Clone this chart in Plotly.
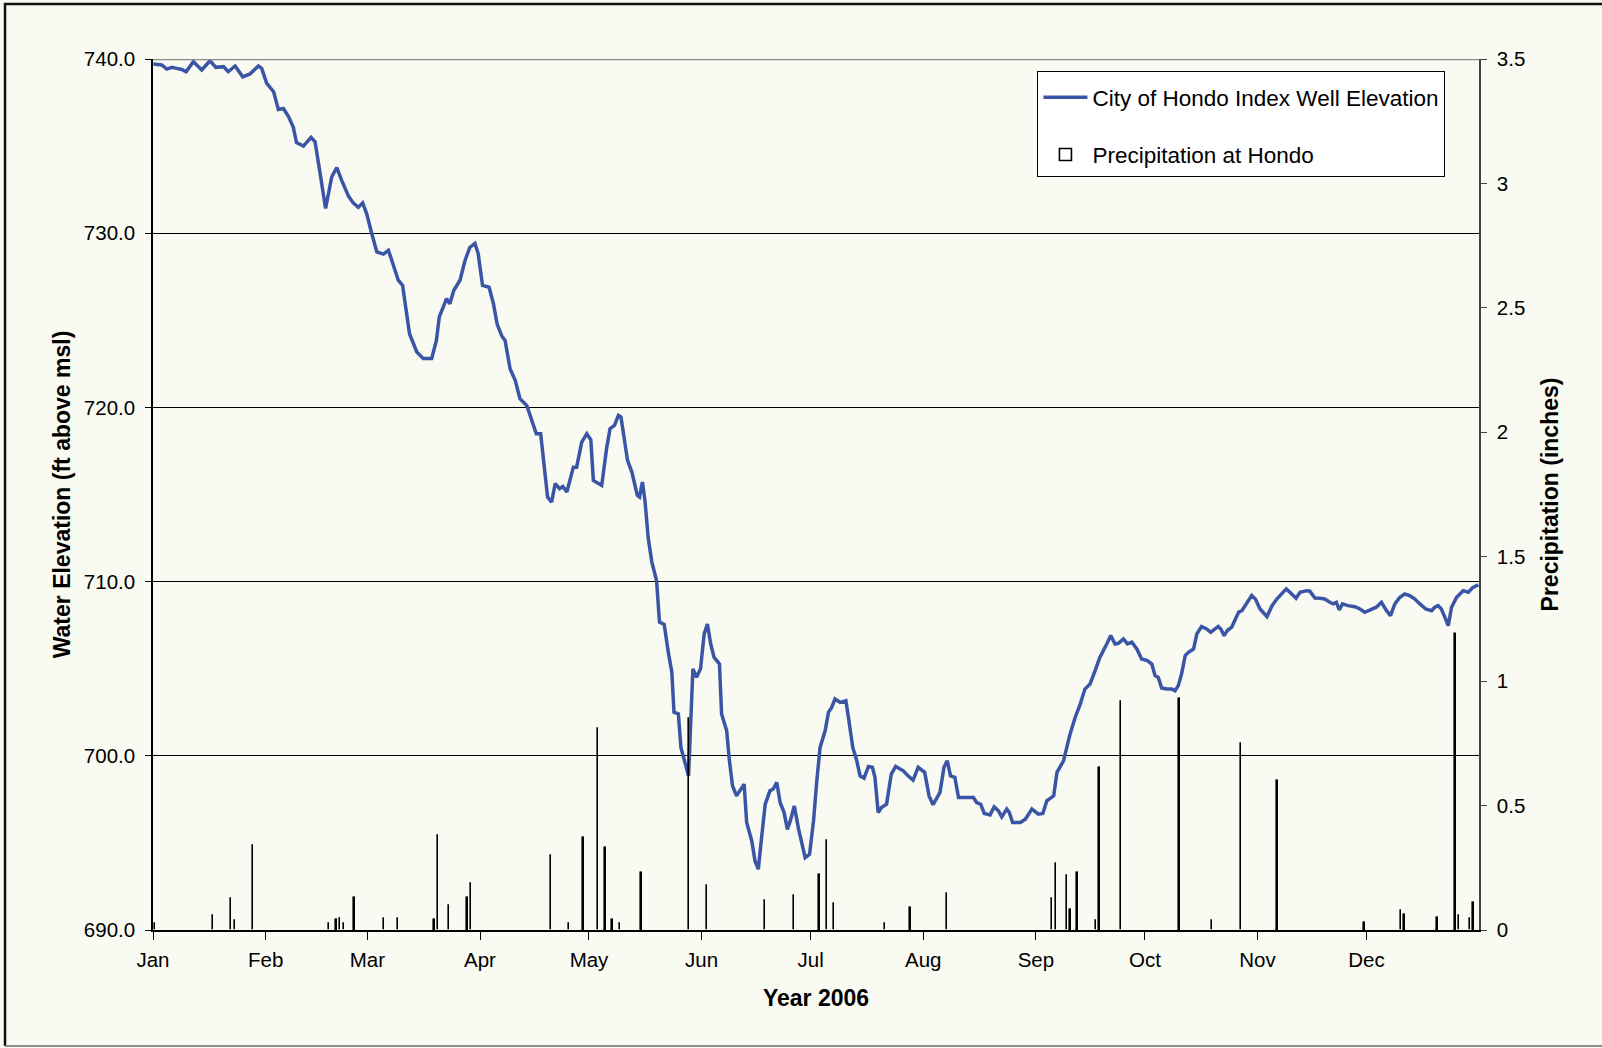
import pandas as pd
import plotly.graph_objects as go

# City of Hondo index well (day offset from Jan 1 2006, ft msl)
well_day = [
    0.1, 2.4, 3.8, 5.2, 6.5, 7.9, 9.1, 11.1, 13.4, 15.7, 17.3, 19.4, 20.7, 22.6, 24.7, 26.7,
    29.0, 29.9, 31.3, 33.2, 34.5, 35.9, 37.3, 38.6, 39.5, 41.4, 43.5, 44.6, 46.0, 47.5, 49.2,
    50.6, 51.9, 53.8, 55.1, 56.5, 57.7, 58.8, 60.2, 61.6, 63.4, 64.8, 66.0, 67.5, 68.7, 69.9,
    70.6, 72.6, 74.4, 76.7, 78.0, 78.8, 80.8, 81.7, 82.8, 84.5, 85.9, 87.2, 88.6, 89.5, 90.7,
    92.5, 93.7, 94.7, 96.0, 96.9, 98.3, 99.7, 101.0, 102.9, 104.3, 105.5, 106.7, 107.6, 108.6,
    109.7, 110.7, 111.9, 112.8, 113.9, 115.7, 116.6, 118.0, 119.4, 120.5, 121.2, 123.5, 124.9,
    125.8, 127.0, 128.1, 128.8, 129.5, 130.6, 131.8, 133.3, 133.9, 134.7, 135.4, 136.3, 137.3,
    138.6, 139.4, 140.7, 141.9, 142.8, 143.4, 144.6, 145.3, 146.4, 147.4, 148.6, 149.6, 150.7,
    151.7, 152.6, 153.5, 154.4, 155.9, 156.5, 157.9, 158.6, 159.5, 160.6, 162.0, 162.7, 163.4,
    164.8, 165.7, 166.6, 167.5, 168.5, 169.8, 170.7, 171.7, 172.6, 173.7, 174.6, 175.4, 176.5,
    177.7, 178.6, 179.5, 180.7, 181.8, 182.7, 183.6, 185.0, 185.9, 186.8, 187.7, 189.1, 190.7,
    191.4, 192.6, 193.7, 194.6, 195.7, 196.9, 198.0, 198.7, 199.6, 200.5, 201.9, 203.2, 204.4,
    206.5, 207.8, 209.2, 210.6, 212.4, 213.6, 214.7, 216.6, 217.7, 218.6, 219.5, 220.7, 221.7,
    223.9, 225.8, 226.7, 227.8, 228.8, 230.4, 231.5, 232.7, 233.6, 235.0, 235.7, 236.6, 238.7,
    240.1, 241.9, 243.7, 244.9, 246.0, 247.9, 248.8, 250.6, 252.4, 253.8, 255.2, 256.5, 257.9,
    259.3, 260.6, 262.5, 263.6, 264.8, 265.7, 267.1, 268.2, 269.4, 270.8, 272.1, 273.7, 274.9,
    275.8, 276.7, 277.6, 279.0, 280.4, 281.3, 282.2, 283.1, 284.1, 285.0, 286.4, 287.3, 288.6,
    290.0, 291.1, 292.3, 293.2, 293.9, 294.8, 295.7, 296.9, 297.8, 298.8, 299.7, 301.1, 302.4,
    303.4, 304.7, 306.6, 308.0, 309.3, 310.7, 311.9, 313.2, 314.6, 315.7, 317.5, 318.4, 319.8,
    321.2, 322.5, 323.9, 324.8, 325.7, 326.5, 327.4, 328.9, 330.8, 332.2, 333.5, 334.9, 336.7,
    338.1, 339.5, 340.6, 341.8, 343.2, 344.5, 345.9, 347.3, 348.7, 350.3, 351.9, 352.8, 353.7,
    354.6, 355.5, 356.5, 357.4, 358.8, 360.6, 362.0, 363.3, 364.8,
]
well_elev = [
    739.71, 739.66, 739.42, 739.52, 739.46, 739.40, 739.27, 739.85, 739.37, 739.90, 739.52,
    739.56, 739.27, 739.60, 738.98, 739.14, 739.60, 739.46, 738.60, 738.12, 737.10, 737.16,
    736.70, 736.10, 735.20, 735.00, 735.50, 735.25, 733.43, 731.42, 733.24, 733.77, 733.05,
    732.13, 731.74, 731.48, 731.74, 731.13, 729.98, 728.93, 728.80, 729.02, 728.26, 727.30,
    727.00, 725.20, 724.23, 723.18, 722.80, 722.80, 723.84, 725.20, 726.24, 725.95, 726.72,
    727.30, 728.45, 729.18, 729.41, 728.83, 727.00, 726.90, 725.95, 724.80, 724.10, 723.84,
    722.20, 721.55, 720.50, 720.10, 719.26, 718.49, 718.49, 716.77, 714.85, 714.56, 715.62,
    715.33, 715.46, 715.14, 716.57, 716.57, 718.01, 718.49, 718.14, 715.81, 715.52, 717.72,
    718.78, 718.97, 719.54, 719.45, 718.49, 716.96, 716.29, 714.95, 714.85, 715.72, 714.66,
    712.50, 711.12, 710.06, 707.67, 707.54, 705.85, 704.80, 702.50, 702.40, 700.48, 699.62,
    698.85, 704.99, 704.51, 704.99, 707.00, 707.57, 706.42, 705.66, 705.27, 702.40, 701.44,
    699.81, 698.28, 697.70, 698.18, 698.37, 696.17, 695.11, 693.96, 693.49, 695.30, 697.22,
    697.99, 698.09, 698.47, 697.32, 696.74, 695.78, 696.26, 697.12, 695.78, 694.92, 694.15,
    694.34, 696.26, 698.56, 700.48, 701.44, 702.49, 702.78, 703.26, 703.07, 703.16, 702.21,
    700.48, 699.72, 698.85, 698.72, 699.39, 699.34, 698.76, 696.74, 697.03, 697.22, 698.95,
    699.39, 699.14, 698.85, 698.60, 699.34, 699.05, 697.70, 697.19, 697.90, 699.34, 699.72,
    698.85, 698.76, 697.61, 697.61, 697.61, 697.32, 697.22, 696.69, 696.61, 697.07, 696.84,
    696.49, 696.94, 696.74, 696.17, 696.17, 696.36, 696.94, 696.65, 696.69, 697.41, 697.70,
    699.05, 699.71, 701.24, 702.20, 702.97, 703.83, 704.12, 704.89, 705.65, 706.42, 706.90,
    706.42, 706.46, 706.71, 706.42, 706.52, 706.13, 705.56, 705.46, 705.27, 704.60, 704.50,
    703.89, 703.83, 703.83, 703.74, 704.03, 704.70, 705.75, 705.94, 706.13, 707.00, 707.42,
    707.28, 707.09, 707.28, 707.42, 707.28, 706.90, 707.19, 707.38, 707.80, 708.24, 708.33,
    708.81, 709.20, 709.00, 708.43, 707.99, 708.62, 709.00, 709.35, 709.58, 709.33, 709.04,
    709.39, 709.48, 709.45, 709.06, 709.04, 709.00, 708.81, 708.72, 708.81, 708.37, 708.72,
    708.62, 708.56, 708.43, 708.24, 708.37, 708.53, 708.81, 708.33, 708.05, 708.72, 709.10,
    709.29, 709.19, 709.00, 708.72, 708.43, 708.33, 708.53, 708.62, 708.43, 707.99, 707.47,
    708.53, 709.10, 709.48, 709.39, 709.67, 709.82,
]

# daily precipitation at Hondo (inches), only days with rain
rain_date = [
    "2006-01-01", "2006-01-17", "2006-01-22", "2006-01-23", "2006-01-28", "2006-02-18",
    "2006-02-20", "2006-02-21", "2006-02-22", "2006-02-25", "2006-03-05", "2006-03-09",
    "2006-03-19", "2006-03-20", "2006-03-23", "2006-03-28", "2006-03-29", "2006-04-20",
    "2006-04-25", "2006-04-29", "2006-05-03", "2006-05-05", "2006-05-07", "2006-05-09",
    "2006-05-15", "2006-05-28", "2006-06-02", "2006-06-18", "2006-06-26", "2006-07-03",
    "2006-07-05", "2006-07-07", "2006-07-21", "2006-07-28", "2006-08-07", "2006-09-05",
    "2006-09-06", "2006-09-09", "2006-09-10", "2006-09-12", "2006-09-17", "2006-09-18",
    "2006-09-24", "2006-10-10", "2006-10-19", "2006-10-27", "2006-11-06", "2006-11-30",
    "2006-12-10", "2006-12-11", "2006-12-20", "2006-12-25", "2006-12-26", "2006-12-29",
    "2006-12-30",
]
rain_in = [
    0.03, 0.06, 0.13, 0.04, 0.34, 0.03, 0.04, 0.05, 0.03, 0.13, 0.05, 0.05,
    0.04, 0.38, 0.10, 0.13, 0.19, 0.30, 0.03, 0.37, 0.81, 0.33, 0.04, 0.03,
    0.23, 0.85, 0.18, 0.12, 0.14, 0.22, 0.36, 0.11, 0.03, 0.09, 0.15, 0.13,
    0.27, 0.22, 0.08, 0.23, 0.04, 0.65, 0.92, 0.93, 0.04, 0.75, 0.60, 0.03,
    0.08, 0.06, 0.05, 1.19, 0.06, 0.05, 0.11,
]

BG = "#F9FAF1"
FONT = "Liberation Sans, Arial, sans-serif"

well_x = pd.Timestamp("2006-01-01") + pd.to_timedelta(well_day, unit="D")

fig = go.Figure()
fig.add_trace(go.Scatter(
    x=well_x, y=well_elev, mode="lines", name="City of Hondo Index Well Elevation",
    line=dict(color="#3A55A5", width=3.5), legendgroup="well", yaxis="y",
))
fig.add_trace(go.Bar(
    x=rain_date, y=rain_in, name="Precipitation at Hondo", yaxis="y2",
    xperiod=86400000, xperiodalignment="middle", width=0.12 * 86400000,
    marker=dict(color="rgba(0,0,0,0)", line=dict(color="black", width=1.6)),
    legendgroup="rain",
))

# outer frame and top border of the plot area
fig.add_shape(type="path", xref="paper", yref="paper",
              path="M -0.1116,-0.1332 L -0.1116,1.0632 L 1.0928,1.0632",
              line=dict(color="#111111", width=2.5))
fig.add_shape(type="line", xref="paper", yref="paper",
              x0=-0.1116, x1=1.0928, y0=-0.1332, y1=-0.1332,
              line=dict(color="#8c8c8c", width=2))
fig.add_shape(type="line", xref="paper", yref="y", x0=0, x1=1, y0=740, y1=740,
              line=dict(color="#8a8a8a", width=2.5))

fig.update_layout(
    width=1602, height=1048,
    margin=dict(l=153, r=123, t=59, b=118),
    paper_bgcolor=BG, plot_bgcolor=BG,
    font=dict(family=FONT, size=20.5, color="black"),
    showlegend=True,
    bargap=0,
    legend=dict(
        x=0.667, y=0.986, xanchor="left", yanchor="top",
        bgcolor="white", bordercolor="black", borderwidth=1,
        font=dict(size=22.5), traceorder="grouped", tracegroupgap=25,
        itemwidth=44,
        title=dict(text=" ", font=dict(size=3)),
    ),
    xaxis=dict(
        type="date", range=["2006-01-01", "2006-12-31 23:00"],
        dtick="M1", tickformat="%b", ticks="outside", ticklen=8, tickcolor="black",
        ticklabelstandoff=3,
        showline=True, linecolor="black", linewidth=1.5, showgrid=False, zeroline=False,
        title=dict(text="Year 2006", font=dict(size=23, weight="bold"), standoff=20),
    ),
    yaxis=dict(
        range=[690, 740], dtick=10, tickformat=".1f", ticks="outside", ticklen=6,
        ticklabelstandoff=6,
        tickcolor="black", showline=True, linecolor="black", linewidth=1.5,
        showgrid=True, gridcolor="black", gridwidth=1, zeroline=False,
        title=dict(text="Water Elevation (ft above msl)", font=dict(size=23, weight="bold"),
                   standoff=7),
    ),
    yaxis2=dict(
        range=[0, 3.5], dtick=0.5, overlaying="y", side="right", ticks="outside",
        ticklen=6, ticklabelstandoff=6, tickcolor="#444", showline=True,
        linecolor="#444", linewidth=1.5, showgrid=False, zeroline=False,
        title=dict(text="Precipitation (inches)", font=dict(size=23, weight="bold"),
                   standoff=18),
    ),
)

fig.write_html("out.html", config={"displayModeBar": False},
               post_script="document.body.style.margin='0';")
